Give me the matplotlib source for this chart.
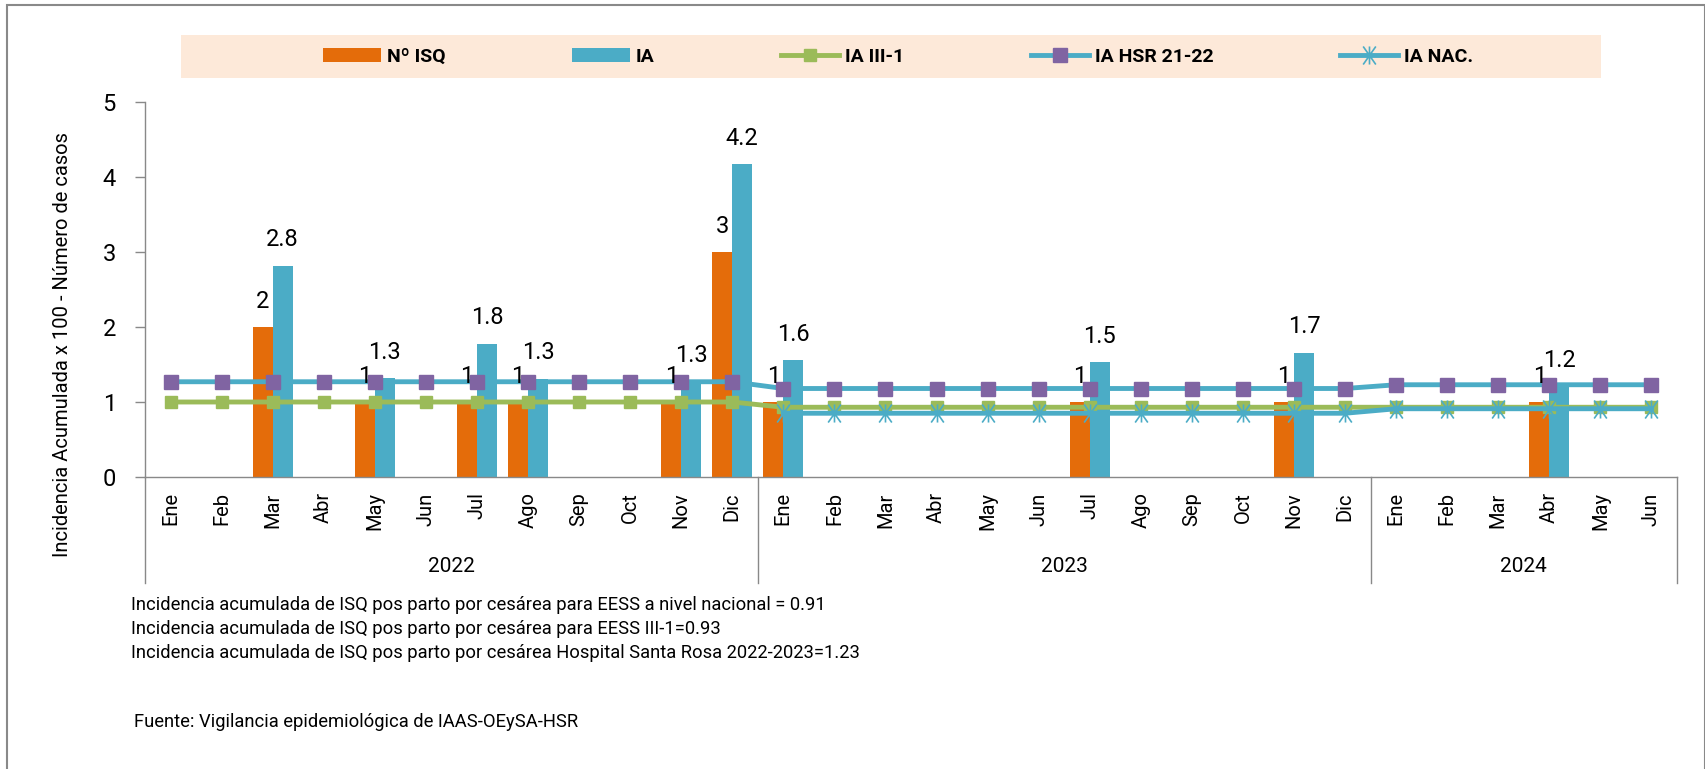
import numpy as np
import matplotlib.pyplot as plt
from matplotlib.patches import Rectangle
from matplotlib.path import Path
from matplotlib.transforms import blended_transform_factory

plt.rcParams['font.family'] = ['Roboto', 'DejaVu Sans']

# datos mensuales ene-2022 .. jun-2024
years = ['2022', '2023', '2024']
months_per_year = [12, 12, 6]
meses = ['Ene', 'Feb', 'Mar', 'Abr', 'May', 'Jun', 'Jul', 'Ago', 'Sep', 'Oct', 'Nov', 'Dic',
         'Ene', 'Feb', 'Mar', 'Abr', 'May', 'Jun', 'Jul', 'Ago', 'Sep', 'Oct', 'Nov', 'Dic',
         'Ene', 'Feb', 'Mar', 'Abr', 'May', 'Jun']

nan = np.nan
n_isq = [nan, nan, 2, nan, 1, nan, 1, 1, nan, nan, 1, 3,
         1, nan, nan, nan, nan, nan, 1, nan, nan, nan, 1, nan,
         nan, nan, nan, 1, nan, nan]
ia = [nan, nan, 2.82, nan, 1.32, nan, 1.78, 1.31, nan, nan, 1.28, 4.17,
      1.56, nan, nan, nan, nan, nan, 1.53, nan, nan, nan, 1.66, nan,
      nan, nan, nan, 1.21, nan, nan]
ia_iii1 = [1.0, 1.0, 1.0, 1.0, 1.0, 1.0, 1.0, 1.0, 1.0, 1.0, 1.0, 1.0,
           0.93, 0.93, 0.93, 0.93, 0.93, 0.93, 0.93, 0.93, 0.93, 0.93, 0.93, 0.93,
           0.93, 0.93, 0.93, 0.93, 0.93, 0.93]
ia_hsr = [1.27, 1.27, 1.27, 1.27, 1.27, 1.27, 1.27, 1.27, 1.27, 1.27, 1.27, 1.27,
          1.18, 1.18, 1.18, 1.18, 1.18, 1.18, 1.18, 1.18, 1.18, 1.18, 1.18, 1.18,
          1.23, 1.23, 1.23, 1.23, 1.23, 1.23]
ia_nac = [nan, nan, nan, nan, nan, nan, nan, nan, nan, nan, nan, nan,
          0.85, 0.85, 0.85, 0.85, 0.85, 0.85, 0.85, 0.85, 0.85, 0.85, 0.85, 0.85,
          0.91, 0.91, 0.91, 0.91, 0.91, 0.91]

notas = ['Incidencia acumulada de ISQ pos parto por cesárea para EESS a nivel nacional = 0.91',
         'Incidencia acumulada de ISQ pos parto por cesárea para EESS III-1=0.93',
         'Incidencia acumulada de ISQ pos parto por cesárea Hospital Santa Rosa 2022-2023=1.23']
fuente = 'Fuente: Vigilancia epidemiológica de IAAS-OEySA-HSR'

naranja = '#E46C0A'
celeste = '#4BACC6'
verde = '#9BBB59'
morado = '#8064A2'
gris = '#898989'

W, H = 1706, 769
fig = plt.figure(figsize=(W / 100, H / 100), dpi=100)
ax = fig.add_axes([145 / W, 1 - 477 / H, (1677 - 145) / W, (477 - 102) / H])

x = np.arange(len(meses))
bw = 0.39
b1 = ax.bar(x - bw / 2, n_isq, bw, color=naranja, label='Nº ISQ', zorder=2)
b2 = ax.bar(x + bw / 2, ia, bw, color=celeste, label='IA', zorder=2)

# asterisco: linea vertical + aspa
ast = Path([(0, -1), (0, 1), (-0.7, -1), (0.7, 1), (-0.7, 1), (0.7, -1)],
           [Path.MOVETO, Path.LINETO, Path.MOVETO, Path.LINETO, Path.MOVETO, Path.LINETO])

l1, = ax.plot(x, ia_iii1, color=verde, lw=3.5, marker='s', ms=9,
              mfc=verde, mec=verde, label='IA III-1', zorder=3)
l2, = ax.plot(x, ia_hsr, color=celeste, lw=3.5, marker='s', ms=10.5,
              mfc=morado, mec=morado, label='IA HSR 21-22', zorder=4)
l3, = ax.plot(x, ia_nac, color=celeste, lw=3.5, marker=ast, ms=13, mew=1.2,
              mfc='none', mec=celeste, label='IA NAC.', zorder=5)

for xi, v in zip(x, n_isq):
    if not np.isnan(v):
        ax.annotate('%d' % v, (xi - bw / 2, v), xytext=(0, 14), textcoords='offset points',
                    ha='center', va='baseline', fontsize=17, zorder=6)
for xi, v in zip(x, ia):
    if not np.isnan(v):
        ax.annotate('%.1f' % v, (xi + bw / 2, v), xytext=(0, 14), textcoords='offset points',
                    ha='center', va='baseline', fontsize=17, zorder=6)

ax.set_xlim(-0.5, len(meses) - 0.5)
ax.set_ylim(0, 5)
ax.set_yticks(range(6))
ax.set_xticks(x)
ax.set_xticklabels(meses, rotation=90, fontsize=14.5)
ax.tick_params(axis='x', length=0, pad=11)
ax.tick_params(axis='y', length=7, width=1, color=gris, labelsize=17, pad=14)
for s in ['top', 'right']:
    ax.spines[s].set_visible(False)
for s in ['left', 'bottom']:
    ax.spines[s].set_color(gris)
    ax.spines[s].set_linewidth(1)

# eje de categorias de dos niveles: separadores y años
trans = blended_transform_factory(ax.transData, ax.transAxes)
limites = np.concatenate([[0], np.cumsum(months_per_year)]) - 0.5
for xb in limites:
    ax.plot([xb, xb], [0, -0.283], transform=trans, color=gris, lw=1, clip_on=False)
for i, yr in enumerate(years):
    ax.text((limites[i] + limites[i + 1]) / 2, -0.24, yr, transform=trans,
            ha='center', va='center', fontsize=15)

fig.text(63 / W, 1 - 345 / H, 'Incidencia Acumulada x 100 - Número de casos',
         rotation=90, ha='center', va='center', fontsize=14.5)

# leyenda sobre banda de color
fig.add_artist(Rectangle((181 / W, 1 - 78 / H), (1601 - 181) / W, 43 / H,
                         transform=fig.transFigure, facecolor='#FDE9D9', edgecolor='none', zorder=0))
fig.legend([b1, b2, l1, l2, l3], ['Nº ISQ', 'IA', 'IA III-1', 'IA HSR 21-22', 'IA NAC.'],
           loc='center', bbox_to_anchor=(898 / W, 1 - 57 / H), ncol=5, frameon=False,
           prop={'weight': 'bold', 'size': 14}, handlelength=3.0, handletextpad=0.3,
           columnspacing=6.5, numpoints=1)

for i, t in enumerate(notas):
    fig.text(131 / W, 1 - (605 + 24 * i) / H, t, ha='left', va='center', fontsize=13.2)
fig.text(134 / W, 1 - 722 / H, fuente, ha='left', va='center', fontsize=13.2)

# marco del grafico
fig.add_artist(Rectangle((7 / W, -0.05), (1705 - 7) / W, 1.05 - 5 / H, transform=fig.transFigure,
                         facecolor='none', edgecolor=gris, lw=1.5, zorder=10))

fig.savefig('out.png', dpi=100)
